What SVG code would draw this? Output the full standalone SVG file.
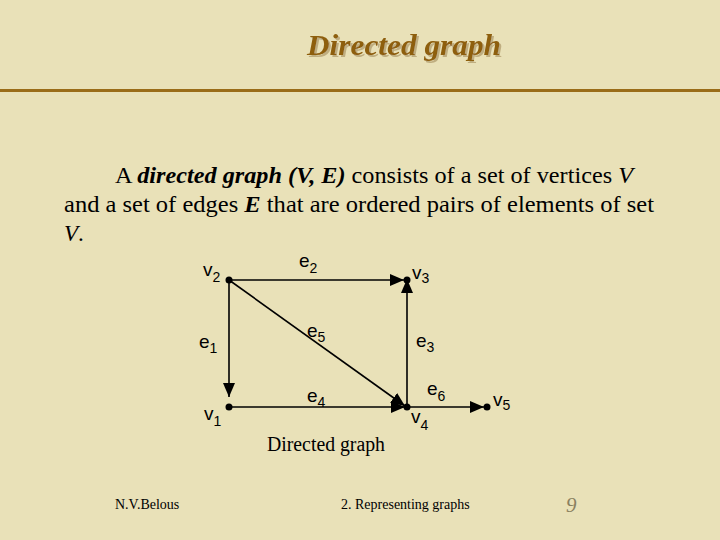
<svg xmlns="http://www.w3.org/2000/svg" width="720" height="540" viewBox="0 0 720 540">
<defs>
<style>
.bg{fill:#E9E1B8}
.title{font-family:"Liberation Serif",serif;font-size:30px;font-weight:bold;font-style:italic;fill:#8E5E0C}
.body{font-family:"Liberation Serif",serif;font-size:23px;fill:#000}
.bi{font-weight:bold;font-style:italic}
.it{font-style:italic}
.lbl{font-family:"Liberation Sans",Arial,sans-serif;font-size:19px;fill:#000}
.sub{font-size:14px}
.edge{stroke:#000;stroke-width:1.6;fill:none}
.dot{fill:#000}
.foot{font-family:"Liberation Serif",serif;font-size:14px;fill:#000}
</style>
<filter id="shadow" x="-10%" y="-30%" width="120%" height="160%">
<feDropShadow dx="2" dy="2" stdDeviation="0.6" flood-color="#BFAE80" flood-opacity="1"/>
</filter>
<marker id="arr" viewBox="0 0 14 12" refX="14" refY="6" markerWidth="14" markerHeight="12" markerUnits="userSpaceOnUse" orient="auto">
<path d="M0,0 L14,6 L0,12 Z" fill="#000"/>
</marker>
</defs>
<rect class="bg" x="0" y="0" width="720" height="540"/>
<g id="title">
<text class="title" x="307" y="55" textLength="194" lengthAdjust="spacingAndGlyphs" filter="url(#shadow)">Directed graph</text>
</g>
<line x1="0" y1="90.5" x2="720" y2="90.5" stroke="#9A6C18" stroke-width="3"/>
<g id="body">
<text class="body" x="115" y="183" textLength="518" lengthAdjust="spacingAndGlyphs">A <tspan class="bi">directed graph (V, E)</tspan> consists of a set of vertices <tspan class="it">V</tspan></text>
<text class="body" x="64" y="212" textLength="590" lengthAdjust="spacingAndGlyphs">and a set of edges <tspan class="bi">E</tspan> that are ordered pairs of elements of set</text>
<text class="body" x="64" y="241"><tspan class="it">V</tspan>.</text>
</g>
<g id="connectors">
<line id="e1" class="edge" x1="229" y1="280" x2="229" y2="397" marker-end="url(#arr)"/>
<line id="e2" class="edge" x1="229" y1="280" x2="404" y2="280" marker-end="url(#arr)"/>
<line id="e3" class="edge" x1="407" y1="407" x2="407" y2="279" marker-end="url(#arr)"/>
<line id="e4" class="edge" x1="229" y1="407" x2="405" y2="407" marker-end="url(#arr)"/>
<line id="e5" class="edge" x1="229" y1="280" x2="405" y2="406" marker-end="url(#arr)"/>
<line id="e6" class="edge" x1="407" y1="407" x2="484" y2="407" marker-end="url(#arr)"/>
</g>
<g id="v1"><circle class="dot" cx="229" cy="407" r="3.5"/><text class="lbl" x="204" y="420">v<tspan class="sub" dy="6">1</tspan></text></g>
<g id="v2"><circle class="dot" cx="229" cy="280" r="3.5"/><text class="lbl" x="203" y="276">v<tspan class="sub" dy="6">2</tspan></text></g>
<g id="v3"><circle class="dot" cx="407" cy="280" r="3.5"/><text class="lbl" x="412" y="279">v<tspan class="sub" dy="4">3</tspan></text></g>
<g id="v4"><circle class="dot" cx="407" cy="407" r="3.5"/><text class="lbl" x="411" y="423">v<tspan class="sub" dy="7">4</tspan></text></g>
<g id="v5"><circle class="dot" cx="487" cy="407" r="3.5"/><text class="lbl" x="493" y="406">v<tspan class="sub" dy="4">5</tspan></text></g>
<g id="edge-labels">
<text class="lbl" x="299" y="267">e<tspan class="sub" dy="6">2</tspan></text>
<text class="lbl" x="199" y="348">e<tspan class="sub" dy="5">1</tspan></text>
<text class="lbl" x="307" y="337">e<tspan class="sub" dy="5">5</tspan></text>
<text class="lbl" x="416" y="347">e<tspan class="sub" dy="5">3</tspan></text>
<text class="lbl" x="307" y="402">e<tspan class="sub" dy="5">4</tspan></text>
<text class="lbl" x="427" y="395">e<tspan class="sub" dy="6">6</tspan></text>
</g>
<text class="body" x="267" y="451" style="font-size:20px" textLength="118" lengthAdjust="spacingAndGlyphs">Directed graph</text>
<g id="footer">
<text class="foot" x="115" y="509">N.V.Belous</text>
<text class="foot" x="341" y="509">2. Representing graphs</text>
<text x="566" y="512" style="font-family:'Liberation Serif',serif;font-size:21px;font-style:italic;fill:#8A8060">9</text>
</g>
</svg>
